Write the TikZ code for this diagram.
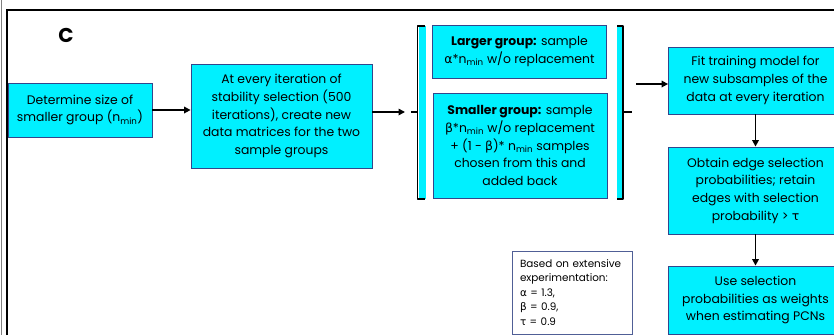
\documentclass[tikz,border=0pt]{standalone}
\usepackage{fontspec}
\setmainfont{Poppins}
\newfontfamily\grk{DejaVu Sans}
\newcommand{\gal}{{\grk α}}
\newcommand{\gbe}{{\grk β}}
\newcommand{\gta}{{\grk τ}}
\usetikzlibrary{arrows.meta}
\definecolor{boxfill}{RGB}{0,240,255}
\definecolor{boxline}{RGB}{50,70,140}
\definecolor{noteline}{RGB}{80,95,150}
\begin{document}
\begin{tikzpicture}[x=1pt,y=-1pt,
    stepbox/.style={draw=boxline, line width=0.8pt, fill=boxfill, align=center,
      inner sep=0pt, font=\fontsize{12.4}{17.7}\selectfont},
    arr/.style={line width=1.6pt, -{Triangle[length=6.5pt,width=6.5pt]}},
    bracket/.style={line width=1.8pt, line join=round}]
    % Page size and frame
    \useasboundingbox (0,0) rectangle (834,335);
    \draw[gray, line width=1.2pt] (1.5,0) -- (1.5,335);
    \draw[line width=2pt] (6.5,335) -- (6.5,9.5) -- (834,9.5);
    \node[font=\fontsize{20}{20}\selectfont\bfseries] (panel) at (66,35) {C};

    % Left column
    \node[stepbox, minimum width=144pt, minimum height=54pt] (size) at (80,110)
      {Determine size of\\smaller group (n\textsubscript{min})};
    \node[stepbox, minimum width=181pt, minimum height=104pt] (iter) at (281.5,116)
      {At every iteration of\\stability selection (500\\iterations), create new\\data matrices for the two\\sample groups};

    % Sampling of the two groups
    \node[stepbox, minimum width=174pt, minimum height=53pt] (larger) at (519.5,51.5)
      {\textbf{Larger group:} sample\\\gal*n\textsubscript{min} w/o replacement};
    \node[stepbox, minimum width=174pt, minimum height=105pt] (smaller) at (520,145.5)
      {\textbf{Smaller group:} sample\\\gbe*n\textsubscript{min} w/o replacement\\+ (1 - \gbe)* n\textsubscript{min} samples\\chosen from this and\\added back};

    % Brackets round the two groups
    \fill[boxfill] (418.5,26) rectangle (426,199);
    \draw[bracket] (425,26) -- (417.5,26) -- (417.5,199) -- (425,199);
    \coordinate (lbr) at (411,112);
    \draw[bracket] (417.5,112) -- (lbr);
    \fill[boxfill] (617,26) rectangle (622,199);
    \draw[bracket] (617,26) -- (623,26) -- (623,199) -- (617,199);
    \coordinate (rbr) at (632,112);
    \draw[bracket] (623,112) -- (rbr);

    % Right column
    \node[stepbox, minimum width=174pt, minimum height=67pt] (fit) at (755.5,80.5)
      {Fit training model for\\new subsamples of the\\data at every iteration};
    \node[stepbox, minimum width=174pt, minimum height=87pt] (edges) at (755.5,190.5)
      {Obtain edge selection\\probabilities; retain\\edges with selection\\probability > \gta};
    \node[stepbox, minimum width=174pt, minimum height=68pt] (weights) at (755.5,300)
      {Use selection\\probabilities as weights\\when estimating PCNs};

    % Note
    \node[draw=noteline, line width=0.8pt, fill=white, minimum width=120pt,
      minimum height=83pt, text width=104pt, align=left, inner sep=0pt,
      font=\fontsize{10.4}{14.5}\selectfont] (note) at (572,292.5)
      {Based on extensive\\experimentation:\\\gal{} = 1.3,\\\gbe{} = 0.9,\\\gta{} = 0.9};

    % Arrows
    \draw[arr] (size.east) -- (size.east -| iter.west);
    \draw[arr] (iter.east |- lbr) -- ([xshift=-6pt]lbr);
    \coordinate (fitin) at (636,84);
    \draw[arr] (fitin) -- (fitin -| fit.west);
    \draw[arr] (fit) -- (edges);
    \draw[arr] (edges) -- (weights);
\end{tikzpicture}
\end{document}
